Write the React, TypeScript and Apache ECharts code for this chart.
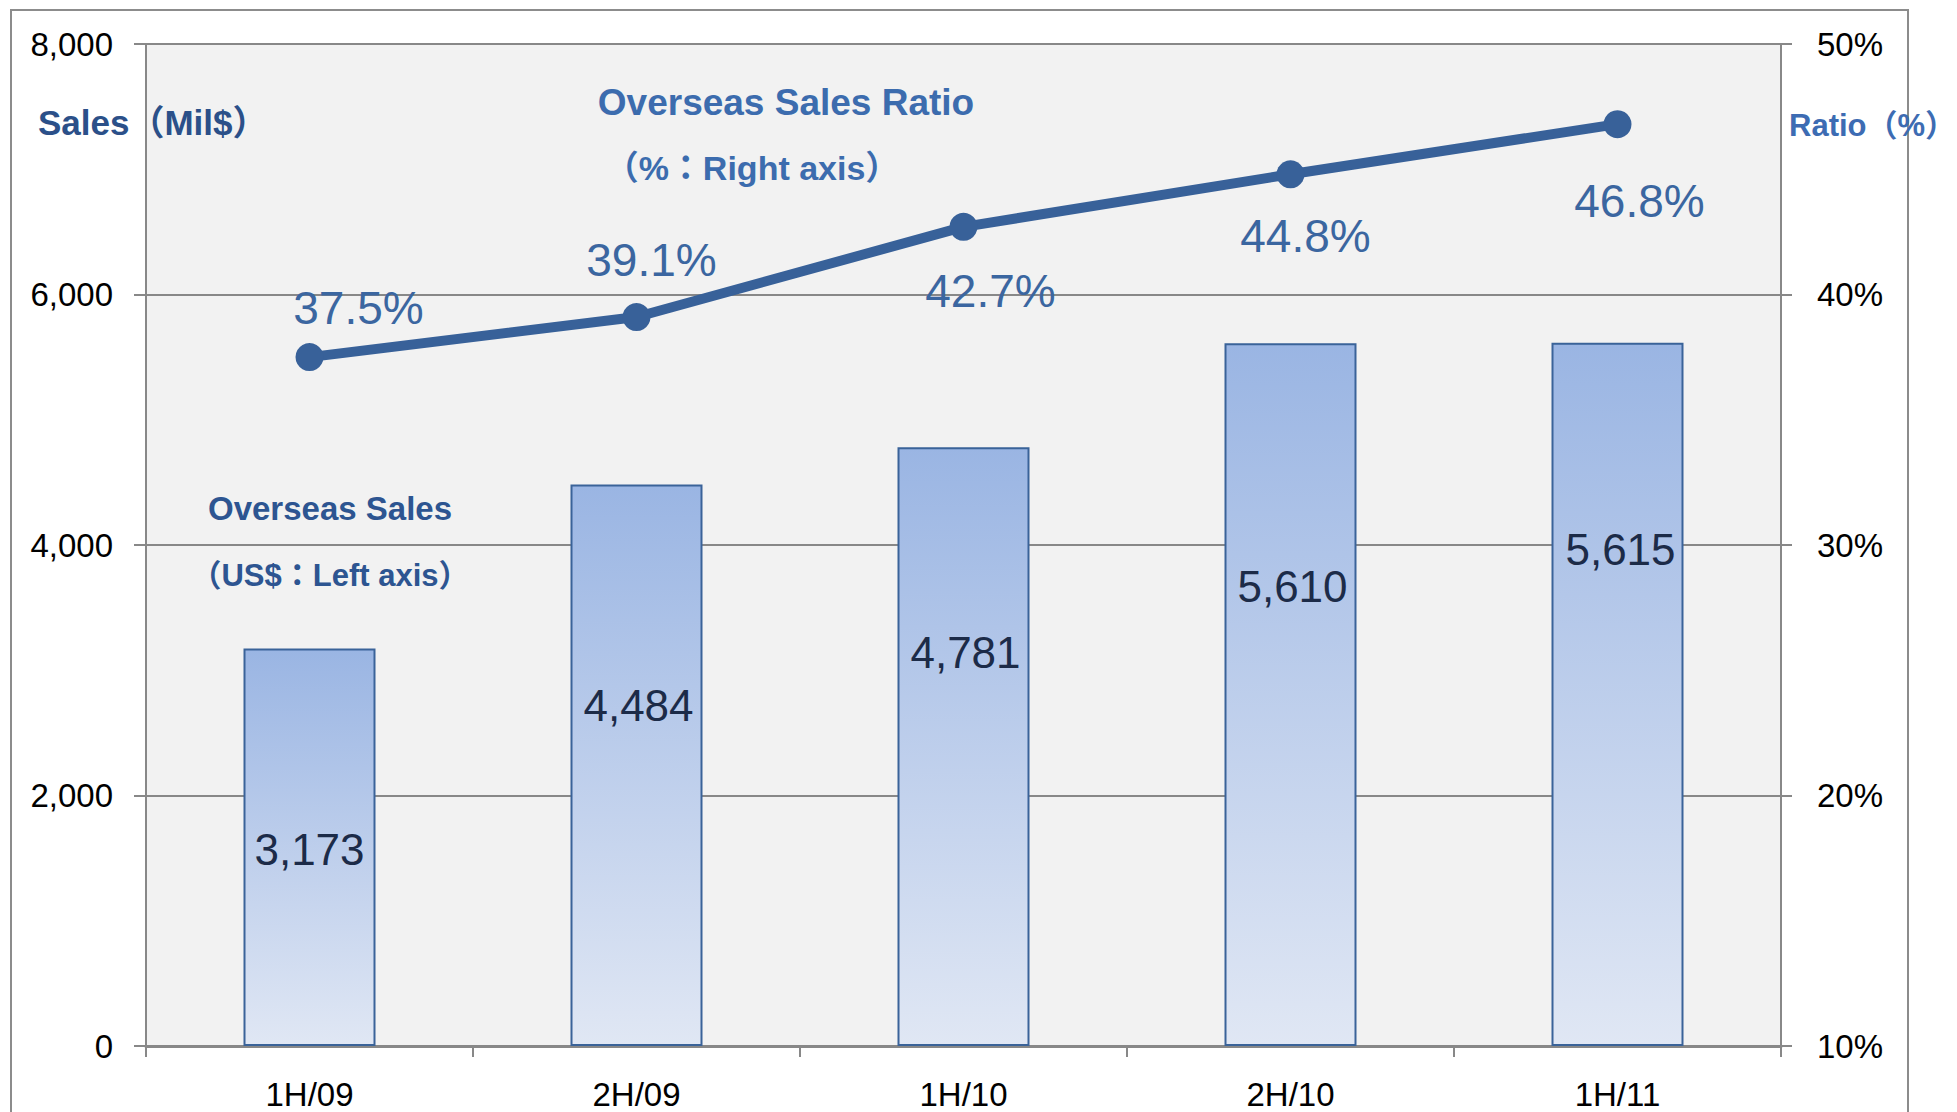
import React, { useEffect, useRef } from "react";
import * as echarts from "echarts";

const categories = ["1H/09", "2H/09", "1H/10", "2H/10", "1H/11"];
const salesValues = [3173, 4484, 4781, 5610, 5615];
const ratioValues = [37.5, 39.1, 42.7, 44.8, 46.8];

// label placement (style only)
const salesLabelOffsets = [[0, 2], [2, -60], [2, -94], [2, -108], [3, -145]];
const ratioLabelOffsets = [[49, -49], [15, -57], [27, 64], [15, 62], [22, 77]];

const FONT = '"Liberation Sans", "Noto Sans CJK JP", Arial, sans-serif';

export default function App() {
  const ref = useRef<HTMLDivElement>(null);

  useEffect(() => {
    if (!ref.current) return;
    const chart = echarts.init(ref.current, undefined, { renderer: "svg" });

    const annot = (
      text: string,
      x: number,
      y: number,
      size: number,
      color: string,
      align: string = "center"
    ) => ({
      type: "text",
      x,
      y,
      z: 100,
      style: {
        text,
        fill: color,
        fontSize: size,
        fontWeight: "bold",
        fontFamily: FONT,
        align,
        verticalAlign: "middle",
      },
    });

    const option: any = {
      animation: false,
      backgroundColor: "#ffffff",
      textStyle: { fontFamily: FONT },
      grid: {
        left: 146,
        top: 44,
        width: 1635,
        height: 1002,
        show: true,
        backgroundColor: "#f2f2f2",
        borderWidth: 0,
      },
      xAxis: {
        type: "category",
        data: categories,
        axisLine: { show: true, lineStyle: { color: "#888888", width: 3 } },
        axisTick: { show: true, length: 11, lineStyle: { color: "#888888", width: 2 } },
        axisLabel: { fontSize: 33, lineHeight: 33, color: "#000000", margin: 32, fontFamily: FONT },
        splitLine: { show: false },
      },
      yAxis: [
        {
          type: "value",
          min: 0,
          max: 8000,
          interval: 2000,
          position: "left",
          axisLine: { show: true, lineStyle: { color: "#888888", width: 2 } },
          axisTick: { show: true, inside: false, length: 12, lineStyle: { color: "#888888", width: 2 } },
          axisLabel: {
            fontSize: 33,
            color: "#000000",
            margin: 33,
            fontFamily: FONT,
            formatter: (v: number) => v.toLocaleString("en-US"),
          },
          splitLine: { show: true, lineStyle: { color: "#888888", width: 2 } },
        },
        {
          type: "value",
          min: 10,
          max: 50,
          interval: 10,
          position: "right",
          axisLine: { show: true, lineStyle: { color: "#888888", width: 2 } },
          axisTick: { show: true, inside: false, length: 11, lineStyle: { color: "#888888", width: 2 } },
          axisLabel: {
            fontSize: 33,
            color: "#000000",
            margin: 36,
            fontFamily: FONT,
            formatter: "{value}%",
          },
          splitLine: { show: false },
        },
      ],
      series: [
        {
          type: "bar",
          yAxisIndex: 0,
          barWidth: 132,
          data: salesValues.map((v, i) => ({
            value: v,
            label: { offset: salesLabelOffsets[i] },
          })),
          itemStyle: {
            color: new echarts.graphic.LinearGradient(0, 0, 0, 1, [
              { offset: 0, color: "#9ab5e3" },
              { offset: 1, color: "#e0e7f4" },
            ]),
            borderColor: "#3a6399",
            borderWidth: 2,
          },
          label: {
            show: true,
            position: "inside",
            fontSize: 44,
            color: "#1c2b48",
            fontFamily: FONT,
            formatter: (p: any) => Number(p.value).toLocaleString("en-US"),
          },
          z: 2,
        },
        {
          type: "line",
          yAxisIndex: 1,
          data: ratioValues.map((v, i) => ({
            value: v,
            label: { offset: ratioLabelOffsets[i] },
          })),
          symbol: "circle",
          symbolSize: 28,
          lineStyle: { color: "#386199", width: 10 },
          itemStyle: { color: "#386199" },
          label: {
            show: true,
            position: "inside",
            fontSize: 46,
            color: "#3b66a0",
            fontFamily: FONT,
            formatter: (p: any) => Number(p.value).toFixed(1) + "%",
          },
          z: 5,
        },
      ],
      graphic: [
        {
          type: "rect",
          shape: { x: 11, y: 10, width: 1897, height: 1200 },
          style: { fill: "none", stroke: "#8c8c8c", lineWidth: 2 },
          z: 50,
          silent: true,
        },
        annot("Sales（Mil$）", 38, 122, 35, "#2b5089", "left"),
        annot("Ratio（%）", 1789, 125, 31, "#3d6cb3", "left"),
        annot("Overseas Sales Ratio", 786, 102, 37, "#3c6cae"),
        annot("（%：Right axis）", 752, 168, 34, "#3c6cae"),
        annot("Overseas Sales", 330, 508, 33, "#2d5591"),
        annot("（US$：Left axis）", 330, 575, 31, "#2d5591"),
      ],
    };

    chart.setOption(option);
    return () => chart.dispose();
  }, []);

  return (
    <div
      ref={ref}
      style={{ position: "absolute", left: 0, top: 0, width: 1957, height: 1112 }}
    />
  );
}
